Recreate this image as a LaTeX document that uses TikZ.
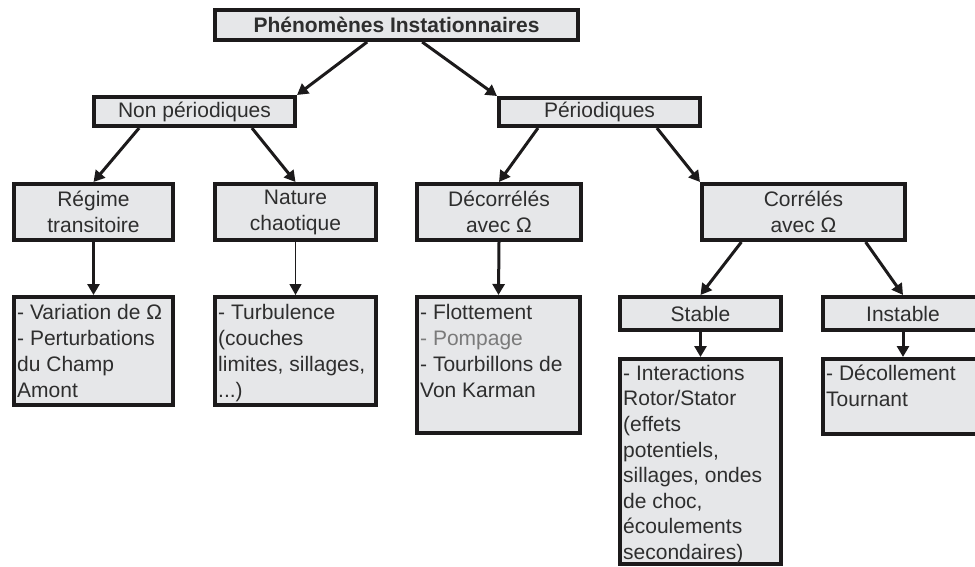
\documentclass[tikz,border=0pt]{standalone}
\usepackage{fontspec}
\setmainfont{Liberation Sans}
\usetikzlibrary{arrows.meta,calc}
\definecolor{ink}{HTML}{2E2E2E}
\definecolor{boxfill}{HTML}{E6E7E9}
\definecolor{frame}{HTML}{1C1A1B}
\definecolor{muted}{HTML}{7A7A7A}
\newcommand{\firstln}{\rule{0pt}{18pt}}

\begin{document}
\begin{tikzpicture}[x=1pt,y=-1pt,
  font=\fontsize{21}{26}\selectfont,
  box/.style={draw=frame, line width=4pt, fill=boxfill, rectangle,
    inner sep=0pt, text=ink, align=center},
  listtext/.style={anchor=north west, inner sep=0pt, align=left, text=ink},
  link/.style={draw=frame, line width=3pt, -{Triangle[length=11pt,width=12pt]}},
  thinlink/.style={link, line width=1.2pt}]

\useasboundingbox (0,0) rectangle (975,567);
\clip (0,0) rectangle (975,567);

% top level
\node[box, minimum width=363pt, minimum height=30pt,
      font=\fontsize{21}{26}\selectfont\bfseries] (top) at (396.5,25) {Phénomènes Instationnaires};

% second level
\node[box, minimum width=201pt, minimum height=29pt] (np)  at (194.5,111.5) {Non périodiques};
\node[box, minimum width=201pt, minimum height=28pt] (per) at (599.5,112)   {Périodiques};

% third level
\node[box, minimum width=159pt, minimum height=56pt] (reg) at (93.5,212)  {Régime\\transitoire};
\node[box, minimum width=161pt, minimum height=56pt] (nat) at (295.5,212) {Nature\\chaotique};
\node[box, minimum width=164pt, minimum height=56pt] (dec) at (499,212)   {Décorrélés\\avec Ω};
\node[box, minimum width=203pt, minimum height=56pt] (cor) at (803.5,212) {Corrélés\\avec Ω};

% stable / unstable
\node[box, minimum width=161pt, minimum height=33pt] (sta) at (700.5,313.5) {Stable};
\node[box, minimum width=160pt, minimum height=33pt] (ins) at (903,313.5)   {Instable};

% lists
\node[box, minimum width=159pt, minimum height=108pt] (var) at (93.5,351)  {};
\node[box, minimum width=161pt, minimum height=108pt] (tur) at (295.5,351) {};
\node[box, minimum width=163pt, minimum height=136pt] (flo) at (498.5,365) {};
\node[box, minimum width=161pt, minimum height=205pt] (int) at (700.5,461.5) {};
\node[box, minimum width=160pt, minimum height=75pt]  (dco) at (903,396.5)  {};

\node[listtext] (vartxt) at ($(var.north west)+(5,6)$)
  {\firstln- Variation de Ω\\- Perturbations\\du Champ\\Amont};
\node[listtext] (turtxt) at ($(tur.north west)+(5,6)$)
  {\firstln- Turbulence\\(couches\\limites, sillages,\\...)};
\node[listtext] (flotxt) at ($(flo.north west)+(5,6)$)
  {\firstln- Flottement\\{\color{muted}- Pompage}\\- Tourbillons de\\Von Karman};
\node[listtext, font=\fontsize{21}{25.6}\selectfont] (inttxt) at ($(int.north west)+(5,5)$)
  {\firstln- Interactions\\Rotor/Stator\\(effets\\potentiels,\\sillages, ondes\\de choc,\\écoulements\\secondaires)};
\node[listtext] (dcotxt) at ($(dco.north west)+(5,5)$)
  {\firstln- Décollement\\Tournant};

% connectors
\draw[link] ($(top.south west)!0.42!(top.south east)$) -- (np.north east);
\draw[link] ($(top.south west)!0.57!(top.south east)$) -- (per.north west);
\draw[link] ($(np.south west)!0.23!(np.south east)$) -- (reg.north);
\draw[link] ($(np.south west)!0.78!(np.south east)$) -- (nat.north);
\draw[link] ($(per.south west)!0.2!(per.south east)$) -- (dec.north);
\draw[link] ($(per.south west)!0.78!(per.south east)$) -- (cor.north west);
\draw[link] ($(cor.south west)!0.2!(cor.south east)$) -- (sta.north);
\draw[link] ($(cor.south west)!0.8!(cor.south east)$) -- (ins.north);
\draw[link] (reg.south) -- (var.north);
\draw[thinlink] (nat.south) -- (tur.north);
\draw[link] (dec.south) -- (flo.north);
\draw[link] (sta.south) -- (int.north);
\draw[link] (ins.south) -- (dco.north);

\end{tikzpicture}
\end{document}
